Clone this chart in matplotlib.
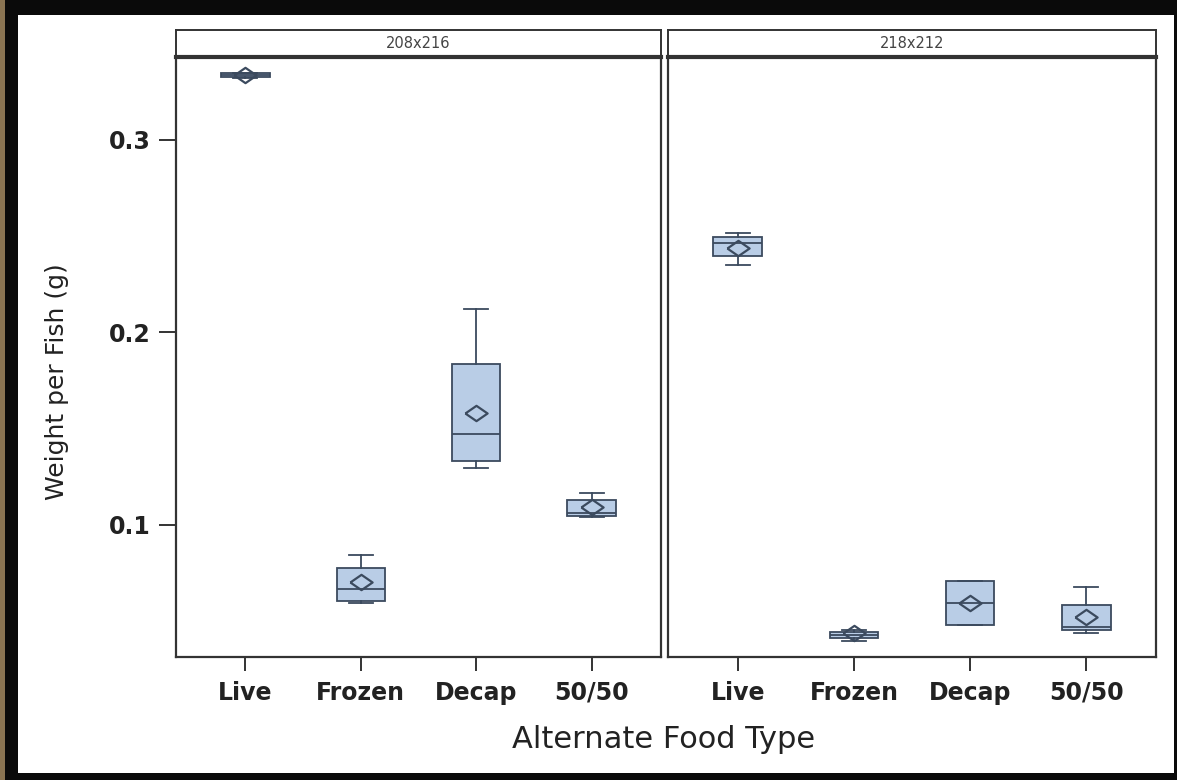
import matplotlib
matplotlib.use("Agg")
import matplotlib.pyplot as plt
from matplotlib.patches import Rectangle

# Food types on the x axis
food_types = ["Live", "Frozen", "Decap", "50/50"]

# Panels (tank dimensions)
panel_titles = ["208x216", "218x212"]

# Box statistics per panel, one value per food type
q1_208 = [0.3328, 0.0605, 0.1332, 0.1047]
med_208 = [0.3338, 0.0668, 0.1473, 0.1062]
q3_208 = [0.3346, 0.0777, 0.1836, 0.1130]
lo_208 = [0.3323, 0.0595, 0.1296, 0.1042]
hi_208 = [0.3350, 0.0844, 0.2122, 0.1166]
mean_208 = [0.3336, 0.0704, 0.1582, 0.1094]

q1_218 = [0.2397, 0.0413, 0.0481, 0.0455]
med_218 = [0.2465, 0.0427, 0.0595, 0.0470]
q3_218 = [0.2496, 0.0444, 0.0709, 0.0584]
lo_218 = [0.2351, 0.0399, 0.0481, 0.0439]
hi_218 = [0.2517, 0.0455, 0.0709, 0.0678]
mean_218 = [0.2439, 0.0439, 0.0595, 0.0522]

y_ticks = [0.1, 0.2, 0.3]

panel_stats = [
    (q1_208, med_208, q3_208, lo_208, hi_208, mean_208),
    (q1_218, med_218, q3_218, lo_218, hi_218, mean_218),
]

W, H = 1177, 780
fig = plt.figure(figsize=(W / 100, H / 100), dpi=100)
fig.patch.set_facecolor("#0a0a0a")

# White page inside the dark frame
fig.add_artist(Rectangle((18 / W, 1 - 773 / H), (1174 - 18) / W, (773 - 15) / H,
                         transform=fig.transFigure, facecolor="white",
                         edgecolor="none", zorder=0))
fig.add_artist(Rectangle((0, 0), 5 / W, 1, transform=fig.transFigure,
                         facecolor="#8a7452", edgecolor="none", zorder=0))

edge = "#3b4a5e"
fill = "#b9cde6"
spine_col = "#333333"

# Wide diamond used for the mean marker
diamond = [(-1.45, 0), (0, 1), (1.45, 0), (0, -1), (-1.45, 0)]

plot_bottom = 1 - 657 / H
plot_height = 600 / H
strip_bottom = 1 - 57 / H
strip_height = 27 / H
panel_x = [(176, 661), (668, 1156)]

ylim = (0.0314, 0.3431)

for i, (x0, x1) in enumerate(panel_x):
    ax = fig.add_axes([x0 / W, plot_bottom, (x1 - x0) / W, plot_height])
    q1, med, q3, lo, hi, mean = panel_stats[i]
    stats = []
    for k in range(len(food_types)):
        stats.append(dict(q1=q1[k], med=med[k], q3=q3[k], whislo=lo[k],
                          whishi=hi[k], mean=mean[k], fliers=[],
                          label=food_types[k]))
    positions = list(range(1, len(food_types) + 1))
    ax.bxp(stats, positions=positions, widths=0.42, showmeans=True,
           showfliers=False, patch_artist=True, capwidths=0.21,
           boxprops=dict(facecolor=fill, edgecolor=edge, linewidth=1.3),
           medianprops=dict(color=edge, linewidth=1.3),
           whiskerprops=dict(color=edge, linewidth=1.3),
           capprops=dict(color=edge, linewidth=1.3),
           meanprops=dict(marker=diamond, markersize=16, markerfacecolor="none",
                          markeredgecolor=edge, markeredgewidth=1.6))
    ax.set_xlim(0.4, 4.6)
    ax.set_ylim(*ylim)
    ax.set_xticks(positions)
    ax.set_xticklabels(food_types, fontsize=17, fontweight="bold",
                       color="#222222", family="DejaVu Sans")
    ax.tick_params(axis="x", length=10, width=1.4, color=spine_col, pad=7)
    if i == 0:
        ax.set_yticks(y_ticks)
        ax.set_yticklabels([f"{v:.1f}" for v in y_ticks], fontsize=17,
                           fontweight="bold", color="#222222",
                           family="DejaVu Sans")
        ax.tick_params(axis="y", length=12, width=1.4, color=spine_col, pad=6)
    else:
        ax.set_yticks([])
    for s in ax.spines.values():
        s.set_color(spine_col)
        s.set_linewidth(1.6)

    # Strip header above each panel
    sax = fig.add_axes([x0 / W, strip_bottom, (x1 - x0) / W, strip_height])
    sax.set_xticks([])
    sax.set_yticks([])
    for s in sax.spines.values():
        s.set_color(spine_col)
        s.set_linewidth(1.4)
    sax.spines["bottom"].set_linewidth(3)
    sax.text(0.5, 0.5, panel_titles[i], ha="center", va="center",
             fontsize=10.5, color="#444444", transform=sax.transAxes)

fig.text(57 / W, 1 - 382 / H, "Weight per Fish (g)", rotation=90,
         ha="center", va="center", fontsize=18, color="#222222")
fig.text(664 / W, 1 - 740 / H, "Alternate Food Type", ha="center",
         va="center", fontsize=22, color="#222222")

fig.savefig("out.png", dpi=100, facecolor=fig.get_facecolor())
